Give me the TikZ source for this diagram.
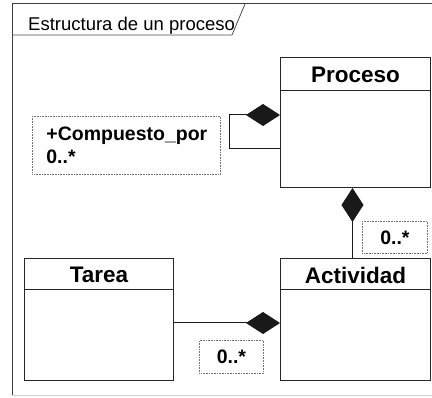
\documentclass[tikz,border=0pt]{standalone}
\usepackage{fontspec}
\setmainfont{Liberation Sans}
\usetikzlibrary{arrows.meta,calc}
\begin{document}
\begin{tikzpicture}[x=1pt,y=-1pt,
  classbox/.style={draw=black!85,line width=1pt,minimum width=150pt,minimum height=123pt,anchor=north west,inner sep=0pt},
  classname/.style={font=\fontsize{22.5}{26}\selectfont\bfseries,anchor=center,inner sep=0pt},
  note/.style={draw=black!55,line width=0.8pt,dash pattern=on 0.8pt off 0.8pt,anchor=north west,inner sep=0pt,
    font=\fontsize{19.5}{23}\selectfont\bfseries,align=left},
  comp/.style={draw=black!90,line width=1pt,{Diamond[length=34pt,width=22pt]}-},
  frameline/.style={draw=black!75,line width=1pt}]
\useasboundingbox (0,0) rectangle (432,398);
% frame
\draw[frameline] (432,4) -- (12,4) -- (12,396);
\draw[black!18,line width=1pt] (12,396) -- (432,396);
\draw[black!70,line width=0.8pt] (12,35) -- (232,35) -- (245,4);
\node[anchor=base west,inner sep=0pt,font=\fontsize{18.5}{20}\selectfont] (title) at (28,31) {Estructura de un proceso};
% classes
\node[classbox,minimum height=130pt] (proceso) at (280,57) {};
\draw[black!85,line width=1pt] ($(proceso.north west)+(0,34)$) -- ($(proceso.north east)+(0,34)$);
\node[classname] (procesoname) at ($(proceso.north)+(0,18)$) {Proceso};
\node[classbox,minimum height=122pt] (actividad) at (280,258) {};
\draw[black!85,line width=1pt] ($(actividad.north west)+(0,32)$) -- ($(actividad.north east)+(0,32)$);
\node[classname] (actividadname) at ($(actividad.north)+(0,17)$) {Actividad};
\node[classbox,minimum width=149pt,minimum height=122pt] (tarea) at (24,258) {};
\draw[black!85,line width=1pt] ($(tarea.north west)+(0,32)$) -- ($(tarea.north east)+(0,32)$);
\node[classname] (tareaname) at ($(tarea.north)+(0,17)$) {Tarea};
% notes
\node[note,minimum width=188pt,minimum height=58pt,text width=160pt,inner xsep=14pt,inner ysep=0pt] (n1) at (32,116) {+Compuesto\_por\\0..*};
\node[note,minimum width=65pt,minimum height=32pt,align=center] (n2) at (362,221) {0..*};
\node[note,minimum width=64pt,minimum height=33pt,align=center] (n3) at (199,340) {0..*};
% connectors
\coordinate (loopA) at ($(proceso.north west)+(0,58)$);
\coordinate (loopB) at ($(proceso.north west)+(0,92)$);
\draw[comp] (loopA) -- ++(-51,0) |- (loopB);
\draw[comp] ($(proceso.south)+(-3,0)$) -- ($(actividad.north)+(-3,0)$);
\draw[comp] (actividad.west |- 0,323) -- (tarea.east |- 0,323);
\end{tikzpicture}
\end{document}
